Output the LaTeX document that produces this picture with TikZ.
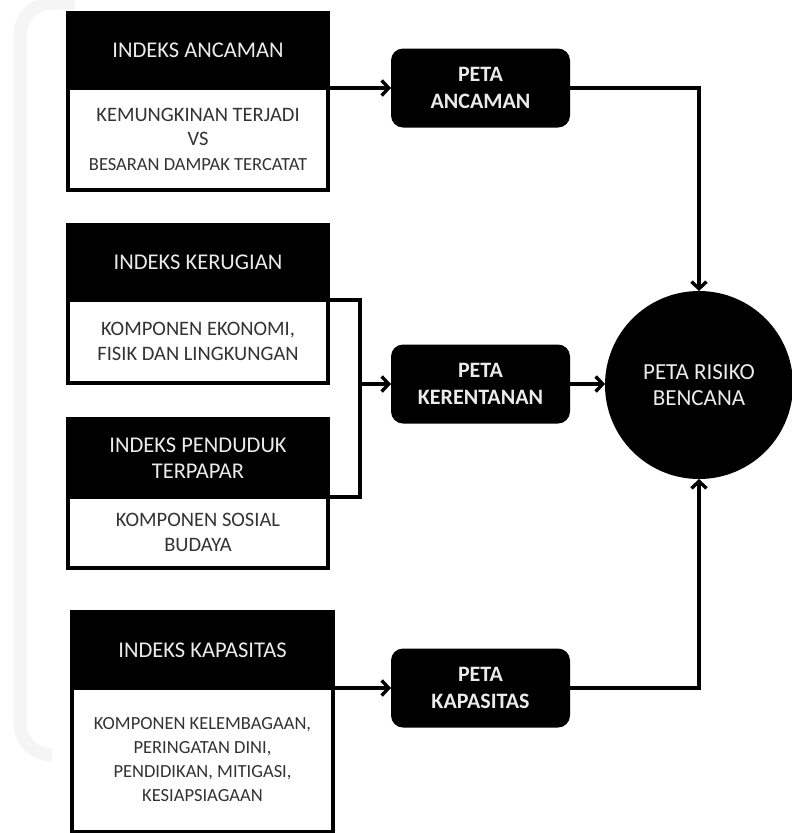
\documentclass[tikz,border=0pt]{standalone}
\usepackage{fontspec}
\setmainfont{Carlito}
\usetikzlibrary{arrows.meta}
\begin{document}
\begin{tikzpicture}[x=1pt,y=-1pt,
  hdr/.style={fill=black, draw=black, line width=3.2pt, outer sep=0pt, text=white!92!black, minimum width=260pt, inner sep=0pt, align=center, font=\fontsize{22.5}{26}\selectfont},
  bdy/.style={fill=white, draw=black, line width=3.2pt, outer sep=0pt, text=black!80, minimum width=260pt, inner sep=0pt, align=center, font=\fontsize{20.5}{24.5}\selectfont},
  peta/.style={fill=black, rounded corners=12pt, outer sep=0pt, text=white!92!black, minimum width=179pt, minimum height=79pt, inner sep=0pt, align=center, font=\bfseries\fontsize{22}{27}\selectfont},
  risk/.style={circle, fill=black, outer sep=0pt, text=white!92!black, minimum size=188pt, inner sep=0pt, align=center, font=\fontsize{23}{26}\selectfont},
  conn/.style={line width=3.4pt, draw=black},
  arr/.style={conn, -{Straight Barb[length=7pt,width=15pt]}},
  wm/.style={line width=13pt, draw=black!4, rounded corners=32pt},
]
\useasboundingbox (0,0) rectangle (792,833);
% faint watermark
\coordinate (w1) at (75,3);
\coordinate (w2) at (20,3);
\coordinate (w3) at (20,755);
\coordinate (w4) at (50,755);
\draw[wm] (w1) -- (w2) -- (w3) -- (w4);

% index boxes
\node[bdy, minimum height=102pt] (ancB) at (198,139) {KEMUNGKINAN TERJADI\\VS\\{\fontsize{18.5}{24}\selectfont BESARAN DAMPAK TERCATAT}};
\node[hdr, minimum height=75pt] (ancH) at (198,50.5) {INDEKS ANCAMAN};

\node[bdy, minimum height=83pt] (kerB) at (198,341.5) {KOMPONEN EKONOMI,\\FISIK DAN LINGKUNGAN};
\node[hdr, minimum height=75pt] (kerH) at (198,262.5) {INDEKS KERUGIAN};

\node[bdy, minimum height=71pt] (penB) at (198,532.5) {KOMPONEN SOSIAL\\BUDAYA};
\node[hdr, minimum height=78pt] (penH) at (198,458) {INDEKS PENDUDUK\\TERPAPAR};

\node[bdy, minimum height=144pt, minimum width=261pt, font=\fontsize{18.5}{24}\selectfont] (kapB) at (202.5,760) {KOMPONEN KELEMBAGAAN,\\PERINGATAN DINI,\\PENDIDIKAN, MITIGASI,\\KESIAPSIAGAAN};
\node[hdr, minimum height=76pt, minimum width=261pt] (kapH) at (202.5,650) {INDEKS KAPASITAS};

% map nodes
\node[peta] (PA) at (480.5,88) {PETA\\ANCAMAN};
\node[peta] (PK) at (480.5,384) {PETA\\KERENTANAN};
\node[peta] (PC) at (480.5,688) {PETA\\KAPASITAS};
\node[risk] (R) at (699,385) {PETA RISIKO\\BENCANA};

% connectors
\draw[arr] (PA.west -| ancB.east) -- (PA.west);
\coordinate (brk) at (360,384);
\draw[conn] (kerB.north east) -| (brk) |- (penB.north east);
\draw[arr] (brk) -- (PK.west);
\draw[arr] (PK.east) -- (PK.east -| R.west);
\draw[arr] (PA.east) -| (R.north);
\draw[arr] (PC.west -| kapB.east) -- (PC.west);
\draw[arr] (PC.east) -| (R.south);
\end{tikzpicture}
\end{document}
